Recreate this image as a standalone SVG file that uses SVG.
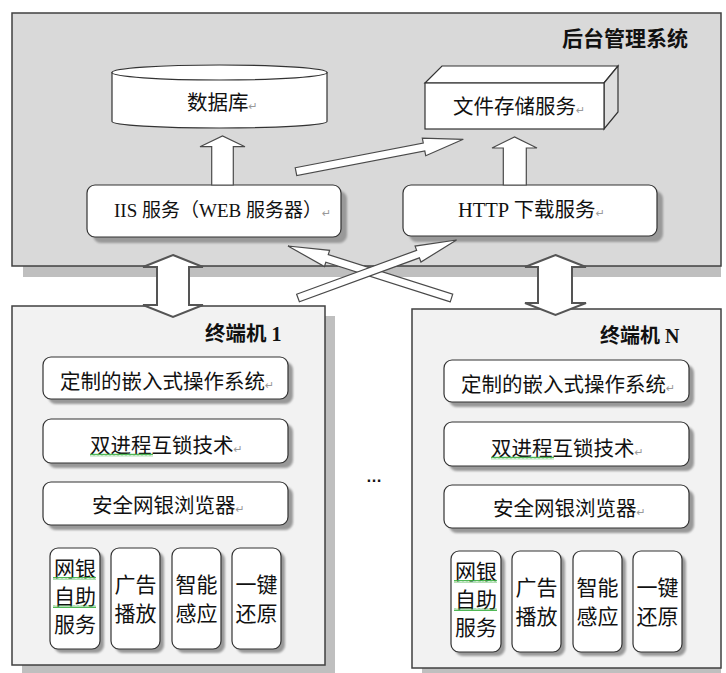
<svg xmlns="http://www.w3.org/2000/svg" width="726" height="673" viewBox="0 0 726 673">
<defs>
<style>
.cjk{font-family:"Noto Sans CJK SC","Noto Sans",sans-serif;fill:#111}
.ser{font-family:"Liberation Serif","Times New Roman",serif}
.ret{font-family:"DejaVu Sans",sans-serif;font-size:11px;fill:#999;font-weight:normal}
.rb{fill:#fff;stroke:#333;stroke-width:1.2}
.sh{fill:#999;filter:url(#blur)}
.blk{fill:#fff;stroke:#4a4a4a;stroke-width:1.2}
.dbl{fill:#fff;stroke:#555;stroke-width:2}
.t20{font-size:20.5px}
.t21{font-size:21px}
</style>
<filter id="blur" x="-10%" y="-10%" width="120%" height="120%"><feGaussianBlur stdDeviation="1.2"/></filter>
<pattern id="wave" width="4" height="3" patternUnits="userSpaceOnUse"><path d="M0,2.5 L1,0.5 L2,2.5 L3,0.5 L4,2.5" fill="none" stroke="#3cb043" stroke-width="0.9"/></pattern>
</defs>
<rect width="726" height="673" fill="#fff"/>

<g id="backend">
<rect x="23" y="265" width="698" height="12" fill="#bfbfbf"/>
<rect x="12" y="13" width="709" height="253" fill="#d9d9d9" stroke="#404040" stroke-width="1.5"/>
<text x="562" y="46" class="cjk t21" font-weight="bold">后台管理系统</text>
</g>

<g id="db">
<path d="M112,72.5 V121.5 A107.5,6.5 0 0 0 327,121.5 V72.5 Z" fill="#fff" stroke="#333" stroke-width="1.2"/>
<ellipse cx="219.5" cy="72.5" rx="107.5" ry="7.5" fill="#fff" stroke="#333" stroke-width="1.2"/>
<text x="187" y="110" class="cjk t20">数据库<tspan class="ret">↵</tspan></text>
</g>

<g id="filestore">
<polygon points="425,83 442,66 618,66 604,83" fill="#fff" stroke="#333" stroke-width="1.2"/>
<polygon points="604,83 618,66 618,112 604,129" fill="#dedede" stroke="#333" stroke-width="1.2"/>
<rect x="425" y="83" width="179" height="46" fill="#fff" stroke="#333" stroke-width="1.2"/>
<text x="453" y="114" class="cjk t20">文件存储服务<tspan class="ret">↵</tspan></text>
</g>

<g id="iis">
<rect x="93" y="191" width="254" height="52" rx="8" class="sh"/>
<rect x="87" y="185" width="254" height="52" rx="8" class="rb"/>
<text x="114" y="216.5" class="cjk" font-size="19px"><tspan class="ser">IIS </tspan>服务（<tspan class="ser">WEB </tspan>服务器）<tspan class="ret">↵</tspan></text>
</g>

<g id="http">
<rect x="409" y="191" width="254" height="51" rx="8" class="sh"/>
<rect x="403" y="185" width="254" height="51" rx="8" class="rb"/>
<text x="458" y="216.5" class="cjk t20"><tspan class="ser">HTTP </tspan>下载服务<tspan class="ret">↵</tspan></text>
</g>

<g id="terminal1">
<rect x="22" y="316" width="313" height="359" fill="#bfbfbf"/>
<rect x="12" y="306" width="313" height="359" fill="#f2f2f2" stroke="#404040" stroke-width="1.5"/>
<text x="205" y="341" class="cjk" font-size="20.5px" font-weight="bold">终端机<tspan class="ser" font-size="20px"> 1</tspan></text>
<g id="t1-os">
<rect x="48" y="362" width="245" height="42" rx="8" class="sh"/>
<rect x="43" y="357" width="245" height="42" rx="8" class="rb"/>
<text x="60" y="389" class="cjk t20">定制的嵌入式操作系统<tspan class="ret">↵</tspan></text>
</g>
<g id="t1-lock">
<rect x="48" y="424" width="245" height="44" rx="8" class="sh"/>
<rect x="43" y="419" width="245" height="44" rx="8" class="rb"/>
<text x="90" y="452.5" class="cjk t20">双进程互锁技术<tspan class="ret">↵</tspan></text>
<rect x="90" y="453.5" width="63" height="3" fill="url(#wave)"/>
</g>
<g id="t1-browser">
<rect x="48" y="487" width="245" height="43" rx="8" class="sh"/>
<rect x="43" y="482" width="245" height="43" rx="8" class="rb"/>
<text x="92" y="513" class="cjk t20">安全网银浏览器<tspan class="ret">↵</tspan></text>
</g>
<g id="t1-bank">
<rect x="54" y="552" width="50" height="101" rx="8" class="sh"/>
<rect x="50" y="548" width="50" height="101" rx="8" class="rb"/>
<text class="cjk t21" text-anchor="middle"><tspan x="75" y="575.5">网银</tspan><tspan x="75" y="603.5">自助</tspan><tspan x="75" y="631.5">服务</tspan></text>
<rect x="53" y="577" width="43" height="3" fill="url(#wave)"/>
<rect x="53" y="605" width="43" height="3" fill="url(#wave)"/>
</g>
<g id="t1-ad">
<rect x="115" y="552" width="49" height="101" rx="8" class="sh"/>
<rect x="111" y="548" width="49" height="101" rx="8" class="rb"/>
<text class="cjk t21" text-anchor="middle"><tspan x="135.5" y="591.5">广告</tspan><tspan x="135.5" y="620.5">播放</tspan></text>
</g>
<g id="t1-sense">
<rect x="176" y="552" width="49" height="101" rx="8" class="sh"/>
<rect x="172" y="548" width="49" height="101" rx="8" class="rb"/>
<text class="cjk t21" text-anchor="middle"><tspan x="196.5" y="591.5">智能</tspan><tspan x="196.5" y="620.5">感应</tspan></text>
</g>
<g id="t1-restore">
<rect x="236" y="552" width="49" height="101" rx="8" class="sh"/>
<rect x="232" y="548" width="49" height="101" rx="8" class="rb"/>
<text class="cjk t21" text-anchor="middle"><tspan x="256.5" y="591.5">一键</tspan><tspan x="256.5" y="620.5">还原</tspan></text>
</g>
</g>

<text id="ellipsis" x="366" y="482" font-family="Liberation Sans, Arial, sans-serif" font-size="16" font-weight="bold" fill="#111">…</text>

<g id="terminalN">
<rect x="422" y="668" width="299" height="6" fill="#bfbfbf"/>
<rect x="412" y="309" width="309" height="359" fill="#f2f2f2" stroke="#404040" stroke-width="1.5"/>
<text x="600" y="343" class="cjk" font-size="20px" font-weight="bold">终端机<tspan class="ser"> N</tspan></text>
<g transform="translate(401,3)">
<g id="tN-os">
<rect x="48" y="362" width="245" height="42" rx="8" class="sh"/>
<rect x="43" y="357" width="245" height="42" rx="8" class="rb"/>
<text x="60" y="389" class="cjk t20">定制的嵌入式操作系统<tspan class="ret">↵</tspan></text>
</g>
<g id="tN-lock">
<rect x="48" y="424" width="245" height="44" rx="8" class="sh"/>
<rect x="43" y="419" width="245" height="44" rx="8" class="rb"/>
<text x="90" y="452.5" class="cjk t20">双进程互锁技术<tspan class="ret">↵</tspan></text>
<rect x="90" y="453.5" width="63" height="3" fill="url(#wave)"/>
</g>
<g id="tN-browser">
<rect x="48" y="487" width="245" height="43" rx="8" class="sh"/>
<rect x="43" y="482" width="245" height="43" rx="8" class="rb"/>
<text x="92" y="513" class="cjk t20">安全网银浏览器<tspan class="ret">↵</tspan></text>
</g>
<g id="tN-bank">
<rect x="54" y="552" width="50" height="101" rx="8" class="sh"/>
<rect x="50" y="548" width="50" height="101" rx="8" class="rb"/>
<text class="cjk t21" text-anchor="middle"><tspan x="75" y="575.5">网银</tspan><tspan x="75" y="603.5">自助</tspan><tspan x="75" y="631.5">服务</tspan></text>
<rect x="53" y="577" width="43" height="3" fill="url(#wave)"/>
<rect x="53" y="605" width="43" height="3" fill="url(#wave)"/>
</g>
<g id="tN-ad">
<rect x="115" y="552" width="49" height="101" rx="8" class="sh"/>
<rect x="111" y="548" width="49" height="101" rx="8" class="rb"/>
<text class="cjk t21" text-anchor="middle"><tspan x="135.5" y="591.5">广告</tspan><tspan x="135.5" y="620.5">播放</tspan></text>
</g>
<g id="tN-sense">
<rect x="176" y="552" width="49" height="101" rx="8" class="sh"/>
<rect x="172" y="548" width="49" height="101" rx="8" class="rb"/>
<text class="cjk t21" text-anchor="middle"><tspan x="196.5" y="591.5">智能</tspan><tspan x="196.5" y="620.5">感应</tspan></text>
</g>
<g id="tN-restore">
<rect x="236" y="552" width="49" height="101" rx="8" class="sh"/>
<rect x="232" y="548" width="49" height="101" rx="8" class="rb"/>
<text class="cjk t21" text-anchor="middle"><tspan x="256.5" y="591.5">一键</tspan><tspan x="256.5" y="620.5">还原</tspan></text>
</g>
</g>
</g>

<g id="connectors">
<polygon class="blk" points="211.7,185 211.7,146.7 200,146.7 222.5,136 245,146.7 233.3,146.7 233.3,185"/>
<polygon class="blk" points="503.3,185 503.3,148 492,148 514.5,137 537,148 526.3,148 526.3,185"/>
<polygon class="blk" transform="translate(296,171.7) rotate(-10.96)" points="0,-4 130.4,-4 130.4,-9 170.4,0 130.4,9 130.4,4 0,4"/>
<polygon class="blk" transform="translate(451.5,298) rotate(-162.36)" points="0,-4 130.6,-4 130.6,-8.5 171.6,0 130.6,8.5 130.6,4 0,4"/>
<polygon class="blk" transform="translate(298,298) rotate(-20.1)" points="0,-4 127.8,-4 127.8,-8.5 168.8,0 127.8,8.5 127.8,4 0,4"/>
<polygon class="dbl" points="173,255 203,267 189,267 189,305 203,305 173,317 143,305 157,305 157,267 143,267"/>
<polygon class="dbl" points="555.5,255 586,267 572,267 572,303 586,303 555.5,315 525,303 538,303 538,267 525,267"/>
</g>
</svg>
